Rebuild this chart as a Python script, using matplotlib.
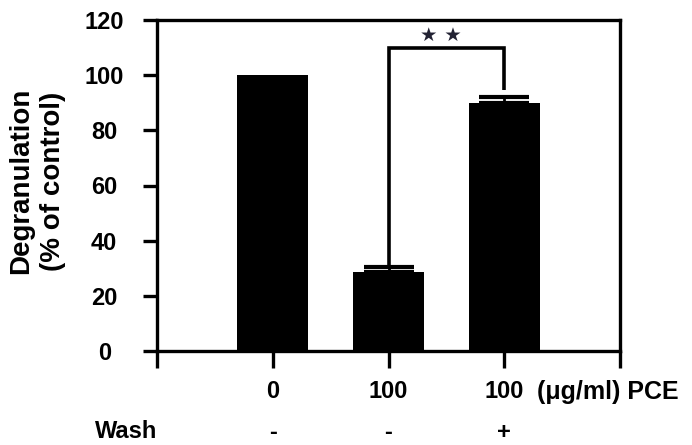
import matplotlib
matplotlib.use("Agg")
import matplotlib.pyplot as plt
from matplotlib.transforms import blended_transform_factory

plt.rcParams['font.family'] = ['Liberation Sans', 'DejaVu Sans']
plt.rcParams['font.weight'] = 'bold'

categories = ["0", "100", "100"]
values = [100, 28.5, 90]
errors = [0, 2, 2]
wash = ["-", "-", "+"]
yticks = [0, 20, 40, 60, 80, 100, 120]

fig = plt.figure(figsize=(6.92, 4.45), dpi=100)
ax = fig.add_axes([157/692, 1-351/445, (620-157)/692, (351-20)/445])

x = list(range(len(values)))
ax.bar(x, values, width=0.61, color='black', zorder=2)
for xi, v, e in zip(x, values, errors):
    if e > 0:
        ax.errorbar(xi, v, yerr=[[0], [e]], fmt='none', ecolor='black',
                    elinewidth=2, capsize=18, capthick=3, zorder=3)

ax.set_xlim(-1, 3)
ax.set_ylim(0, 120)
ax.set_yticks(yticks)
ax.set_yticklabels([str(t) for t in yticks], fontsize=17, fontweight='bold')
for lab in ax.get_yticklabels():
    lab.set_horizontalalignment('center')
ax.set_xticks([-1, 0, 1, 2, 3])
ax.set_xticklabels(["", categories[0], categories[1], categories[2], ""],
                   fontsize=17, fontweight='bold')

for s in ax.spines.values():
    s.set_linewidth(2.4)
ax.tick_params(axis='y', length=10, width=2.4, pad=28)
ax.tick_params(axis='x', length=12, width=2.4, pad=9)

# significance bracket
y_top = 110
ax.plot([1, 1, 2, 2], [values[1] + errors[1] + 0.5, y_top, y_top, values[2] + errors[2] + 2.5],
        color='black', lw=2.6, solid_capstyle='butt', solid_joinstyle='miter', zorder=3)
ax.text(1.45, y_top + 0.8, "★ ★", ha='center', va='bottom', fontsize=14,
        color='#222233', family=['DejaVu Sans'])

trans = blended_transform_factory(ax.transData, ax.transAxes)
ax.text(2.283, -0.125, "(μg/ml) PCE", transform=trans, ha='left', va='center',
        fontsize=18, fontweight='bold')
for xi, w in zip(x, wash):
    ax.text(xi, -0.245, w, transform=trans, ha='center', va='center',
            fontsize=17, fontweight='bold')
ax.text(-1.27, -0.242, "Wash", transform=trans, ha='center', va='center',
        fontsize=17, fontweight='bold')

fig.text(37/692, 1-181/445, "Degranulation\n(% of control)", rotation=90,
         ha='center', va='center', multialignment='center',
         fontsize=20, fontweight='bold', linespacing=1.25)

fig.savefig("out.png", dpi=100)
